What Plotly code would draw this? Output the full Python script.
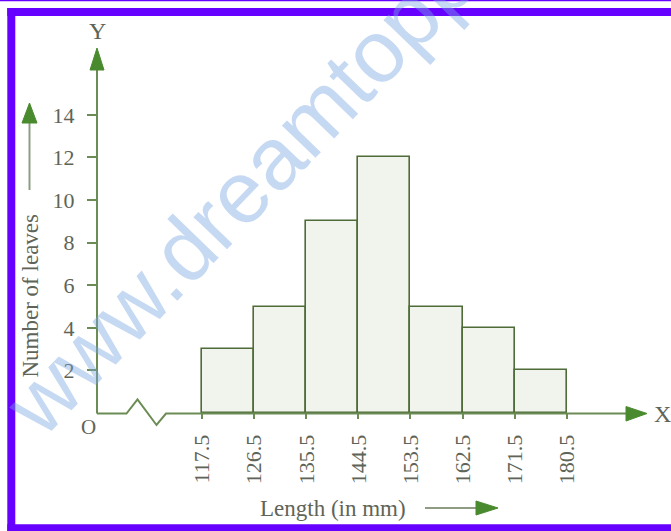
import plotly.graph_objects as go

# ---- data ----
bin_edges = [117.5, 126.5, 135.5, 144.5, 153.5, 162.5, 171.5, 180.5]
counts = [3, 5, 9, 12, 5, 4, 2]
x_tick_labels = ["117.5", "126.5", "135.5", "144.5", "153.5", "162.5", "171.5", "180.5"]
y_tick_vals = [2, 4, 6, 8, 10, 12, 14]

centers = [(a + b) / 2 for a, b in zip(bin_edges[:-1], bin_edges[1:])]
widths = [b - a for a, b in zip(bin_edges[:-1], bin_edges[1:])]

W, H = 671, 531
L, R, T, B = 97, 23, 55, 118
PW, PH = W - L - R, H - T - B

def X(px):
    return (px - L) / PW

def Y(py):
    return (H - B - py) / PH

AXIS = "#6b8c55"
HEAD = "#4a8a2e"
BAR_LINE = "#4f6b38"
TXT = "#5f6458"
PURPLE = "#6600ff"
SERIF = "Liberation Serif, Times New Roman, serif"

fig = go.Figure()
fig.add_trace(go.Bar(
    x=centers, y=counts, width=widths,
    marker=dict(color="#f1f4ed", line=dict(color=BAR_LINE, width=1.6)),
    hoverinfo="skip",
))

shapes = []
ax_y = 413.5
pts = [(97, ax_y), (126.5, ax_y), (137.5, 399.5), (156.5, 425), (166, ax_y), (630, ax_y)]
path = "M " + " L ".join(f"{X(a)},{Y(b)}" for a, b in pts)
shapes.append(dict(type="path", xref="paper", yref="paper", path=path,
                   line=dict(color=AXIS, width=2)))
shapes.append(dict(type="path", xref="paper", yref="paper",
                   path=f"M {X(626)},{Y(406.5)} L {X(647)},{Y(ax_y)} L {X(626)},{Y(421)} Z",
                   fillcolor=HEAD, line=dict(color=HEAD, width=1)))
shapes.append(dict(type="line", xref="paper", yref="paper",
                   x0=X(97), y0=Y(ax_y), x1=X(97), y1=Y(66),
                   line=dict(color=AXIS, width=2)))
shapes.append(dict(type="path", xref="paper", yref="paper",
                   path=f"M {X(90)},{Y(70)} L {X(97)},{Y(48)} L {X(104)},{Y(70)} Z",
                   fillcolor=HEAD, line=dict(color=HEAD, width=1)))
shapes.append(dict(type="line", xref="paper", yref="paper",
                   x0=X(29.5), y0=Y(190), x1=X(29.5), y1=Y(118),
                   line=dict(color="#8f9c84", width=2)))
shapes.append(dict(type="path", xref="paper", yref="paper",
                   path=f"M {X(22)},{Y(123)} L {X(29.5)},{Y(103)} L {X(37)},{Y(123)} Z",
                   fillcolor=HEAD, line=dict(color=HEAD, width=1)))
shapes.append(dict(type="line", xref="paper", yref="paper",
                   x0=X(425), y0=Y(508), x1=X(480), y1=Y(508),
                   line=dict(color="#8f9c84", width=2)))
shapes.append(dict(type="path", xref="paper", yref="paper",
                   path=f"M {X(476)},{Y(501)} L {X(498)},{Y(508)} L {X(476)},{Y(515)} Z",
                   fillcolor=HEAD, line=dict(color=HEAD, width=1)))
# purple frame
for x0, x1, y0, y1 in [(0, 671, 0, 1.3), (7.3, 671, 8, 16), (7.3, 15.3, 8, 531), (7.3, 671, 524.3, 531)]:
    shapes.append(dict(type="rect", xref="paper", yref="paper",
                       x0=X(x0), x1=X(x1), y0=Y(y0), y1=Y(y1),
                       fillcolor=PURPLE, line=dict(width=0)))

def ann(text, px, py, size, angle=0, family=SERIF, color=TXT):
    return dict(text=text, x=X(px), y=Y(py), xref="paper", yref="paper",
                showarrow=False, textangle=angle, xanchor="center", yanchor="middle",
                font=dict(family=family, size=size, color=color))

annotations = [
    ann("Y", 97, 31, 24),
    ann("X", 662, 414, 24),
    ann("O", 88, 427, 21),
    ann("Number of leaves", 29.5, 296, 23, angle=-90),
    ann("Length (in mm)", 333, 508, 23),
    ann("www.dreamtopper.com", 331, 97, 88, angle=-46,
        family="Liberation Sans, Arial, sans-serif", color="rgba(120,165,225,0.42)"),
]

fig.update_layout(
    width=W, height=H,
    margin=dict(l=L, r=R, t=T, b=B, pad=0),
    paper_bgcolor="white", plot_bgcolor="rgba(0,0,0,0)",
    showlegend=False,
    bargap=0,
    shapes=shapes,
    annotations=annotations,
)
fig.update_xaxes(
    range=[99.3, 99.3 + PW / 5.784],
    tickmode="array", tickvals=bin_edges, ticktext=x_tick_labels,
    tickangle=-90, ticks="outside", ticklen=5, tickwidth=1.6, tickcolor=AXIS,
    ticklabelstandoff=7,
    tickfont=dict(family=SERIF, size=22, color=TXT),
    showgrid=False, zeroline=False, showline=False, fixedrange=True,
)
fig.update_yaxes(
    range=[0, PH / 21.3],
    tickmode="array", tickvals=y_tick_vals,
    ticks="outside", ticklen=9, tickwidth=1.6, tickcolor=AXIS,
    ticklabelstandoff=8,
    tickfont=dict(family=SERIF, size=22, color=TXT),
    showgrid=False, zeroline=False, showline=False, fixedrange=True,
)

fig.write_html(
    "out.html",
    config={"displayModeBar": False},
    post_script="document.body.style.margin='0';document.body.style.overflow='hidden';",
)
